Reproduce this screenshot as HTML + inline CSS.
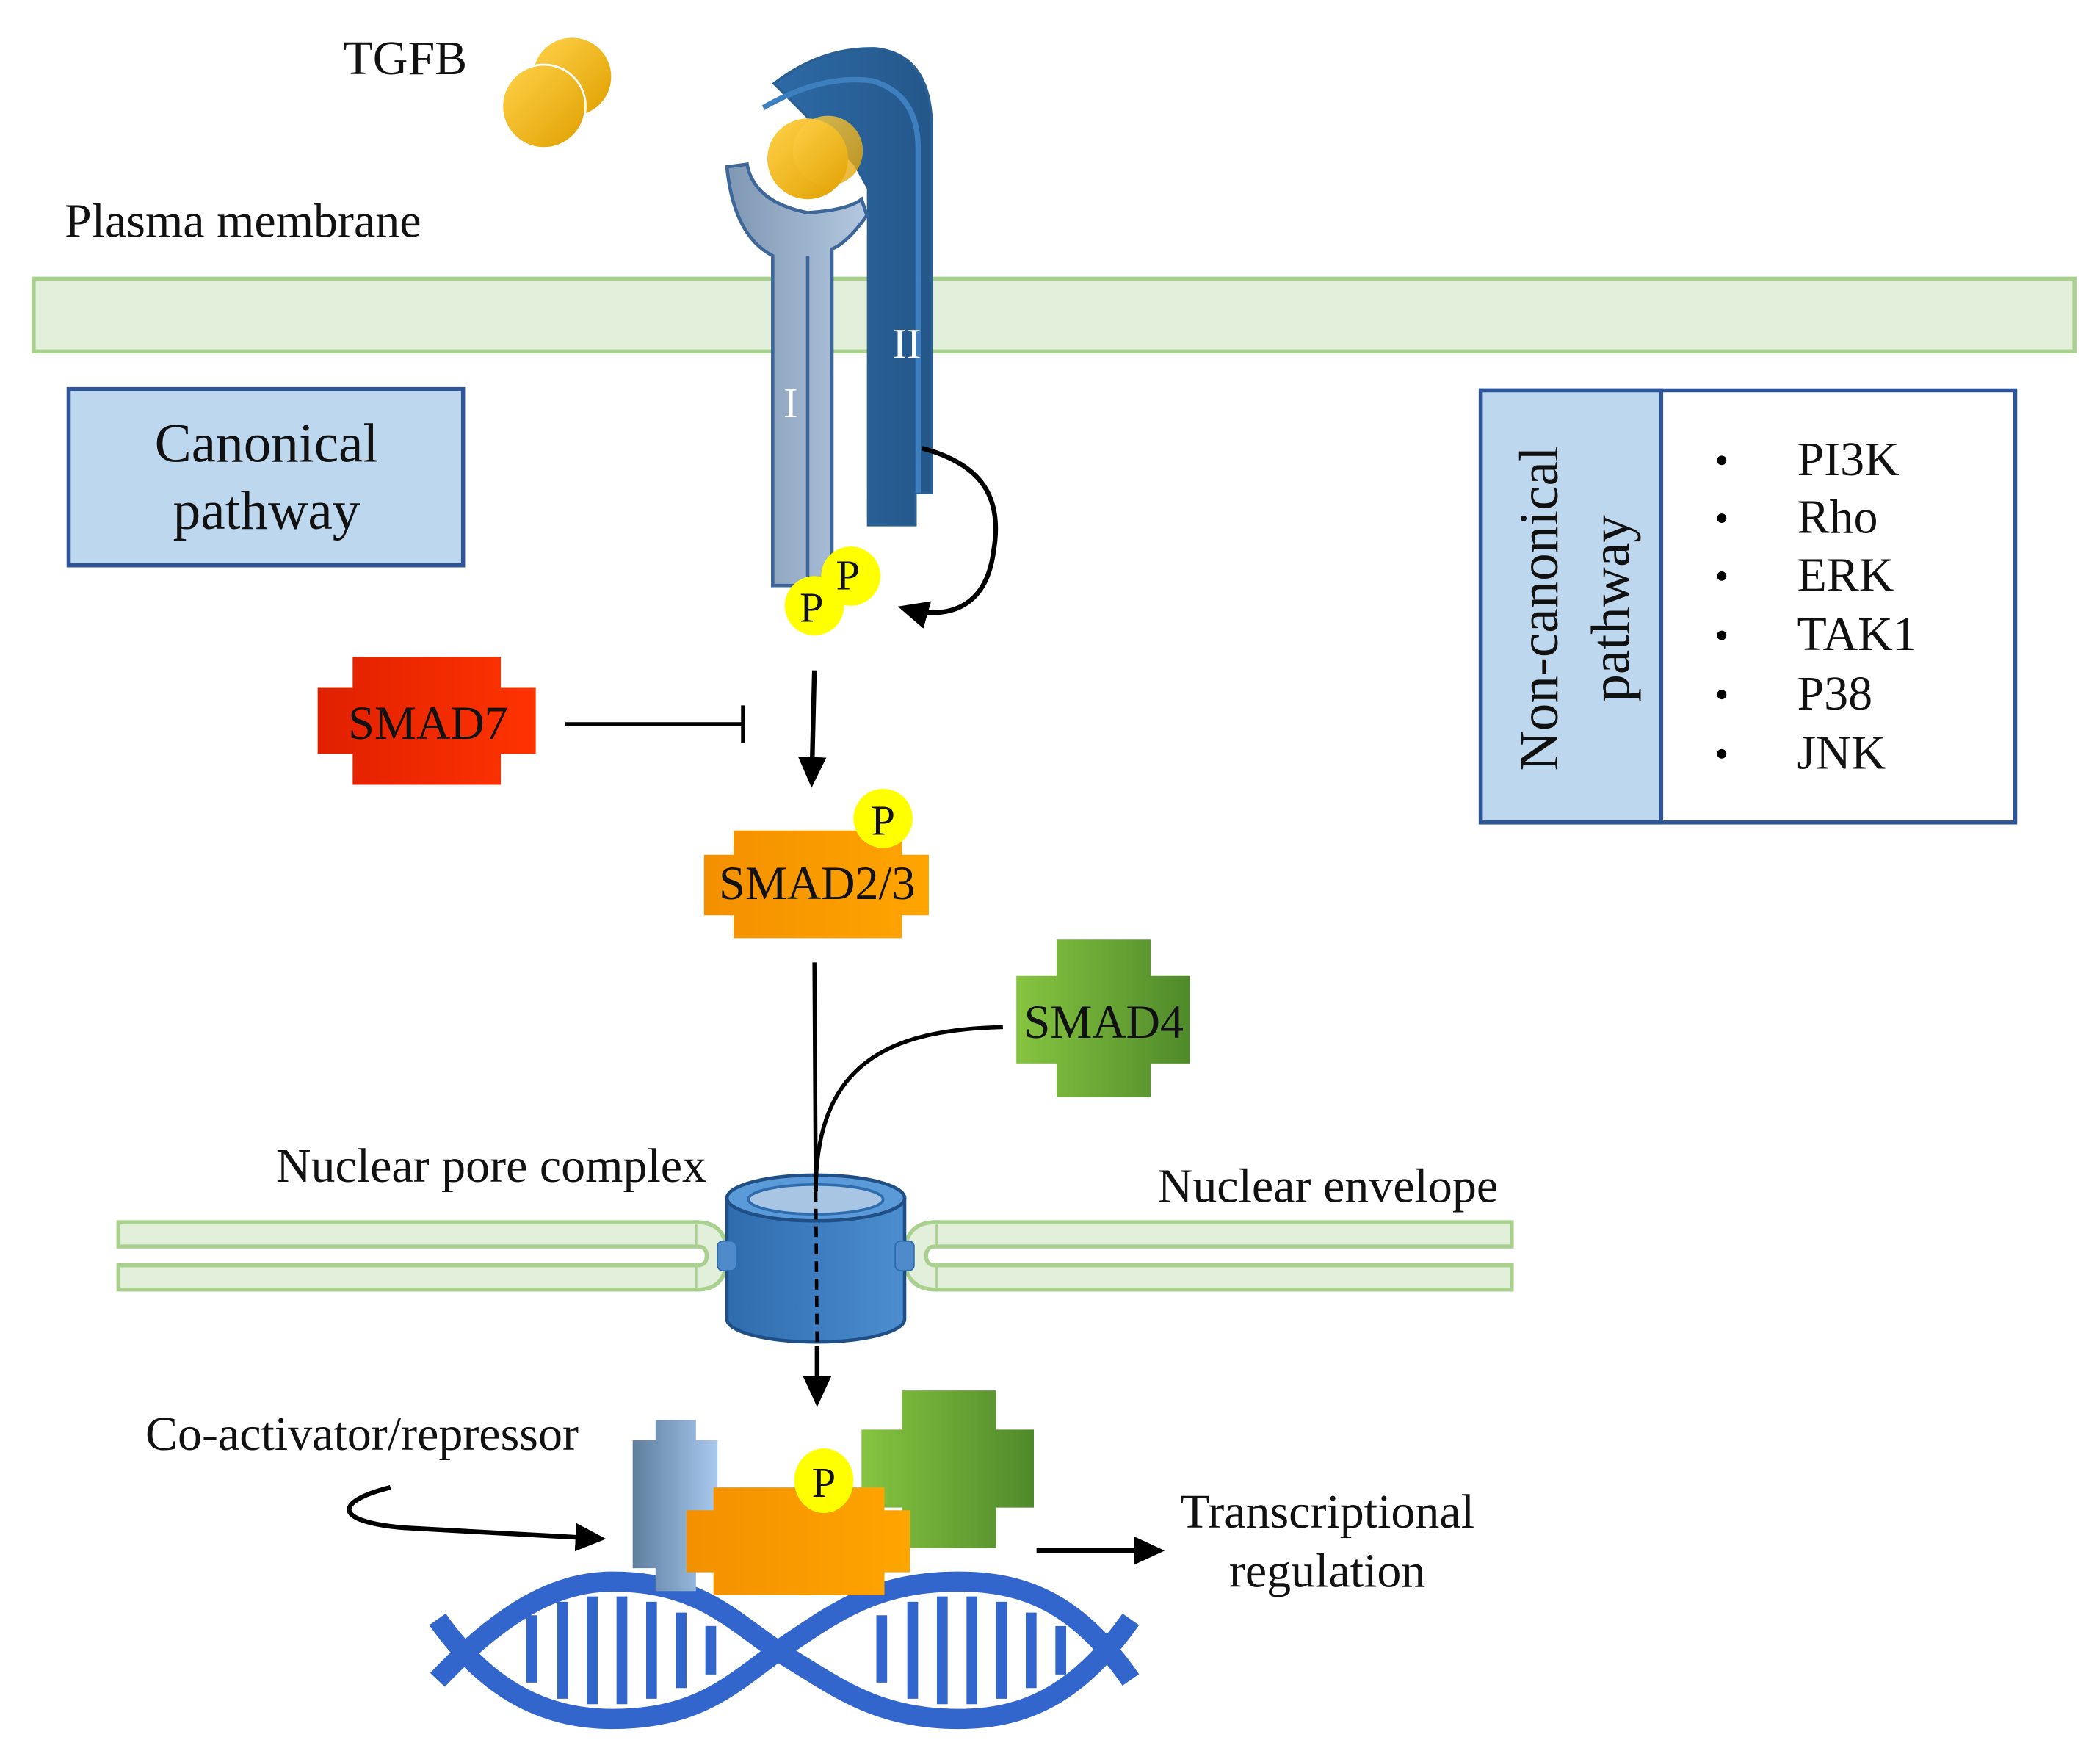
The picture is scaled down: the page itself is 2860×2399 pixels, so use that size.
<!DOCTYPE html>
<html><head><meta charset="utf-8"><style>
html,body{margin:0;padding:0;background:#fff;}
svg{display:block;}
text{font-family:"Liberation Serif",serif;fill:#111;}
</style></head><body>
<svg width="2860" height="2399" viewBox="0 0 1560 1309" preserveAspectRatio="none" xmlns="http://www.w3.org/2000/svg">
<defs>
<linearGradient id="gold" x1="0" y1="0" x2="1" y2="1"><stop offset="0" stop-color="#ffd24a"/><stop offset="1" stop-color="#e0a000"/></linearGradient>
<linearGradient id="r1" x1="0" x2="1"><stop offset="0" stop-color="#7f97b4"/><stop offset="1" stop-color="#b4c8e0"/></linearGradient>
<linearGradient id="r2" x1="0" x2="1"><stop offset="0" stop-color="#2d6aa6"/><stop offset="1" stop-color="#24578a"/></linearGradient>
<linearGradient id="red" x1="0" x2="1"><stop offset="0" stop-color="#e02000"/><stop offset="1" stop-color="#ff3300"/></linearGradient>
<linearGradient id="orn" x1="0" x2="1"><stop offset="0" stop-color="#f39000"/><stop offset="1" stop-color="#ffa500"/></linearGradient>
<linearGradient id="grn" x1="0" x2="1"><stop offset="0" stop-color="#86c440"/><stop offset="1" stop-color="#4f8a2a"/></linearGradient>
<linearGradient id="sb" x1="0" x2="1"><stop offset="0" stop-color="#5f7f9f"/><stop offset="1" stop-color="#a8c8ee"/></linearGradient>
<linearGradient id="pore" x1="0" x2="1"><stop offset="0" stop-color="#2f6cae"/><stop offset="1" stop-color="#4c8ed0"/></linearGradient>
<marker id="ah" markerWidth="8" markerHeight="8" refX="5" refY="3" orient="auto" markerUnits="strokeWidth"><path d="M0,0 L6.5,3 L0,6 z" fill="#000"/></marker>
</defs>

<!-- TGFB -->
<text x="255" y="55" font-size="36">TGFB</text>
<circle cx="425" cy="57" r="29" fill="url(#gold)"/>
<circle cx="404" cy="79" r="31" fill="url(#gold)" stroke="#fff" stroke-width="1.5"/>

<!-- membrane -->
<text x="48" y="176" font-size="36">Plasma membrane</text>
<rect x="25" y="207" width="1516" height="54" fill="#e2efda" stroke="#a9d08e" stroke-width="3"/>

<!-- receptor II -->
<path d="M575,62 Q610,35 650,36 Q690,40 692,90 L692,366 L680,366 L680,390 L645,390 L645,140 L635,122 Z" fill="url(#r2)" stroke="#2a5f93" stroke-width="2"/>
<path d="M567,80 Q610,55 648,60 Q682,70 682,110 L682,366" fill="none" stroke="#3e7fbf" stroke-width="4"/>
<text x="663" y="266" font-size="32" style="fill:#fff">II</text>

<!-- ligand in cup -->
<circle cx="600" cy="118" r="30" fill="url(#gold)"/>
<circle cx="615" cy="112" r="26" fill="url(#gold)" opacity="0.8"/>

<!-- receptor I -->
<path d="M540,124 L555,122 Q560,150 600,158 Q630,156 640,148 L644,160 Q630,180 618,185 L618,435 L574,435 L574,190 Q545,175 540,124 Z" fill="url(#r1)" stroke="#3d6699" stroke-width="2.5"/>
<line x1="600" y1="190" x2="600" y2="432" stroke="#3d6699" stroke-width="2.5"/>
<text x="582" y="310" font-size="32" style="fill:#fff">I</text>

<!-- P circles -->
<circle cx="605" cy="450" r="22" fill="#ffff00"/>
<circle cx="632" cy="428" r="22" fill="#ffff00"/>
<text x="594" y="462" font-size="32">P</text>
<text x="621" y="438" font-size="32">P</text>

<!-- autophosphorylation arrow -->
<path d="M685,333 C730,345 745,370 738,410 C732,455 700,460 672,452" fill="none" stroke="#000" stroke-width="3.5" marker-end="url(#ah)"/>

<!-- canonical box -->
<rect x="51" y="289" width="293" height="131" fill="#bdd7ee" stroke="#2e5597" stroke-width="3"/>
<text x="198" y="343" font-size="41" text-anchor="middle">Canonical</text>
<text x="198" y="393" font-size="41" text-anchor="middle">pathway</text>

<!-- down arrow -->
<line x1="605" y1="498" x2="603" y2="580" stroke="#000" stroke-width="3.5" marker-end="url(#ah)"/>

<!-- SMAD7 -->
<path d="M262,488 H372 V511 H398 V560 H372 V583 H262 V560 H236 V511 H262 Z" fill="url(#red)"/>
<text x="318" y="549" font-size="35" text-anchor="middle">SMAD7</text>
<line x1="420" y1="538" x2="552" y2="538" stroke="#000" stroke-width="3"/>
<line x1="552" y1="524" x2="552" y2="552" stroke="#000" stroke-width="3"/>

<!-- SMAD2/3 -->
<path d="M545,617 H670 V635 H690 V680 H670 V697 H545 V680 H523 V635 H545 Z" fill="url(#orn)"/>
<text x="607" y="668" font-size="35" text-anchor="middle">SMAD2/3</text>
<circle cx="656" cy="608" r="22" fill="#ffff00"/>
<text x="656" y="620" font-size="32" text-anchor="middle">P</text>

<!-- SMAD4 -->
<path d="M785,698 H855 V725 H884 V790 H855 V815 H785 V790 H755 V725 H785 Z" fill="url(#grn)"/>
<text x="820" y="771" font-size="35" text-anchor="middle">SMAD4</text>

<!-- nuclear envelope -->
<rect x="88" y="908" width="430" height="18" fill="#e2efda" stroke="#a9d08e" stroke-width="3"/>
<rect x="88" y="940" width="430" height="18" fill="#e2efda" stroke="#a9d08e" stroke-width="3"/>
<path d="M518,908 Q540,908 540,933 Q540,958 518,958" fill="#e2efda" stroke="#a9d08e" stroke-width="3"/>
<rect x="695" y="908" width="428" height="18" fill="#e2efda" stroke="#a9d08e" stroke-width="3"/>
<rect x="695" y="940" width="428" height="18" fill="#e2efda" stroke="#a9d08e" stroke-width="3"/>
<path d="M695,908 Q672,908 672,933 Q672,958 695,958" fill="#e2efda" stroke="#a9d08e" stroke-width="3"/>
<path d="M695,926 Q688,926 688,933 Q688,940 695,940" fill="#fff" stroke="#a9d08e" stroke-width="3"/>
<path d="M518,926 Q525,926 525,933 Q525,940 518,940" fill="#fff" stroke="#a9d08e" stroke-width="3"/>

<!-- pore -->
<path d="M540,890 V980 A66,17 0 0 0 672,980 V890 Z" fill="url(#pore)" stroke="#1f4f85" stroke-width="2.5"/>
<ellipse cx="606" cy="890" rx="66" ry="17" fill="#5a9ad8" stroke="#1f4f85" stroke-width="2.5"/>
<ellipse cx="606" cy="891" rx="50" ry="11" fill="#a8c6e4" stroke="#2f6cae" stroke-width="2"/>
<rect x="533" y="922" width="14" height="22" rx="4" fill="#4f8bcb" stroke="#2f6cae"/>
<rect x="665" y="922" width="14" height="22" rx="4" fill="#4f8bcb" stroke="#2f6cae"/>

<text x="205" y="878" font-size="36">Nuclear pore complex</text>
<text x="860" y="893" font-size="36">Nuclear envelope</text>

<!-- connectors -->
<line x1="605" y1="715" x2="606" y2="885" stroke="#000" stroke-width="3"/>
<path d="M745,763 C660,765 606,790 606,885" fill="none" stroke="#000" stroke-width="3"/>
<line x1="606" y1="885" x2="607" y2="1000" stroke="#000" stroke-width="2.5" stroke-dasharray="8,5"/>
<line x1="607" y1="1000" x2="607" y2="1040" stroke="#000" stroke-width="3.5" marker-end="url(#ah)"/>

<!-- non-canonical box -->
<rect x="1100" y="290" width="397" height="321" fill="#fff" stroke="#2e5597" stroke-width="3"/>
<rect x="1100" y="290" width="134" height="321" fill="#bdd7ee" stroke="#2e5597" stroke-width="3"/>
<text transform="translate(1157,452) rotate(-90)" font-size="41" text-anchor="middle">Non-canonical</text>
<text transform="translate(1210,452) rotate(-90)" font-size="41" text-anchor="middle">pathway</text>
<g font-size="36">
<circle cx="1279" cy="342" r="3.5" fill="#000"/><text x="1335" y="353">PI3K</text>
<circle cx="1279" cy="385" r="3.5" fill="#000"/><text x="1335" y="396">Rho</text>
<circle cx="1279" cy="428" r="3.5" fill="#000"/><text x="1335" y="439">ERK</text>
<circle cx="1279" cy="472" r="3.5" fill="#000"/><text x="1335" y="483">TAK1</text>
<circle cx="1279" cy="516" r="3.5" fill="#000"/><text x="1335" y="527">P38</text>
<circle cx="1279" cy="560" r="3.5" fill="#000"/><text x="1335" y="571">JNK</text>
</g>

<!-- DNA -->
<g fill="none" stroke="#3366cc">
<g stroke-width="8">
<line x1="395" y1="1200" x2="395" y2="1250"/><line x1="418" y1="1190" x2="418" y2="1262"/><line x1="440" y1="1186" x2="440" y2="1266"/><line x1="462" y1="1186" x2="462" y2="1266"/><line x1="484" y1="1190" x2="484" y2="1262"/><line x1="506" y1="1198" x2="506" y2="1254"/><line x1="528" y1="1208" x2="528" y2="1244"/>
<line x1="655" y1="1200" x2="655" y2="1250"/><line x1="678" y1="1190" x2="678" y2="1262"/><line x1="700" y1="1186" x2="700" y2="1266"/><line x1="722" y1="1186" x2="722" y2="1266"/><line x1="744" y1="1190" x2="744" y2="1262"/><line x1="766" y1="1198" x2="766" y2="1254"/><line x1="788" y1="1208" x2="788" y2="1244"/>
</g>
<path d="M325,1248 C380,1190 420,1175 455,1175 C520,1175 545,1205 580,1228 C620,1252 650,1277 712,1277 C760,1277 800,1260 840,1203" stroke-width="15"/>
<path d="M325,1203 C365,1260 410,1277 455,1277 C520,1277 545,1250 580,1225 C620,1198 650,1175 712,1175 C760,1175 800,1190 840,1248" stroke-width="15"/>
</g>

<!-- transcription complex -->
<path d="M487,1055 H517 V1070 H533 V1165 H517 V1182 H487 V1165 H470 V1070 H487 Z" fill="url(#sb)"/>
<path d="M670,1033 H740 V1062 H768 V1120 H740 V1150 H670 V1120 H640 V1062 H670 Z" fill="url(#grn)"/>
<path d="M530,1105 H657 V1122 H676 V1168 H657 V1185 H530 V1168 H510 V1122 H530 Z" fill="url(#orn)"/>
<ellipse cx="612" cy="1100" rx="22" ry="24" fill="#ffff00"/>
<text x="612" y="1112" font-size="32" text-anchor="middle">P</text>

<text x="108" y="1077" font-size="36">Co-activator/repressor</text>
<path d="M290,1105 C250,1115 245,1130 300,1135 L445,1143" fill="none" stroke="#000" stroke-width="3.5" marker-end="url(#ah)"/>
<line x1="770" y1="1152" x2="860" y2="1152" stroke="#000" stroke-width="3.5" marker-end="url(#ah)"/>
<text x="986" y="1135" font-size="36" text-anchor="middle">Transcriptional</text>
<text x="986" y="1179" font-size="36" text-anchor="middle">regulation</text>
</svg>
</body></html>
